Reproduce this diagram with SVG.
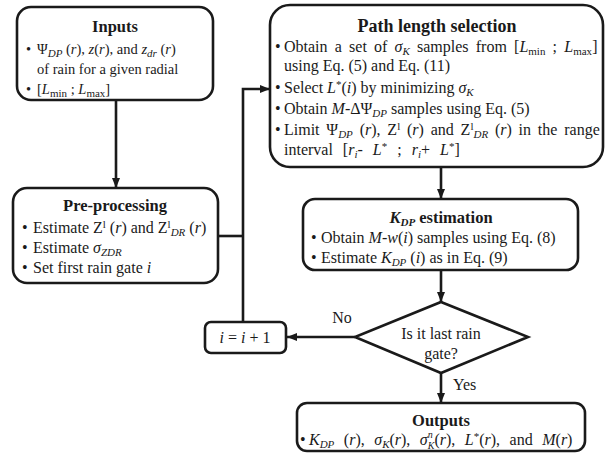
<svg xmlns="http://www.w3.org/2000/svg" width="607" height="453" viewBox="0 0 607 453">
<style>
text{font-family:"Liberation Serif","Times New Roman",serif;font-size:16px;fill:#1a1a1a}
.h{font-weight:bold;font-size:16.5px;text-anchor:middle}
.c{text-anchor:middle}
.i{font-style:italic}
.s{font-size:11px}
.sm{font-size:14.5px}
.box{fill:#fff;stroke:#1a1a1a;stroke-width:2.6}
.ln{fill:none;stroke:#1a1a1a;stroke-width:2.6}
</style>
<defs>
<marker id="ah" markerUnits="userSpaceOnUse" markerWidth="10" markerHeight="10" viewBox="0 0 10 10" refX="10" refY="5" orient="auto">
<path d="M0,1 L10,5 L0,9 Z" fill="#1a1a1a"/>
</marker>
</defs>
<g id="connectors">
<line class="ln" x1="116" y1="100" x2="116" y2="188" marker-end="url(#ah)"/>
<line class="ln" x1="218" y1="236" x2="243" y2="236"/>
<polyline class="ln" points="243,322 243,89 270,89" marker-end="url(#ah)"/>
<line class="ln" x1="441" y1="167" x2="441" y2="199" marker-end="url(#ah)"/>
<line class="ln" x1="441" y1="270" x2="441" y2="302" marker-end="url(#ah)"/>
<line class="ln" x1="355" y1="337" x2="287" y2="337" marker-end="url(#ah)"/>
<line class="ln" x1="441" y1="373" x2="441" y2="403" marker-end="url(#ah)"/>
<text x="342" y="323" class="c">No</text>
<text x="453" y="390">Yes</text>
</g>
<g id="inputs">
<rect class="box" x="17" y="7" width="196" height="93" rx="14"/>
<text x="115" y="32" class="h">Inputs</text>
<text x="26" y="54" class="sm">•</text>
<text x="37" y="54" class="sm">Ψ<tspan class="s i" dy="3">DP</tspan><tspan dy="-3"> (</tspan><tspan class="i">r</tspan>), <tspan class="i">z</tspan>(<tspan class="i">r</tspan>), and <tspan class="i">z</tspan><tspan class="s i" dy="3">dr</tspan><tspan dy="-3"> (</tspan><tspan class="i">r</tspan>)</text>
<text x="37" y="74" class="sm">of rain for a given radial</text>
<text x="26" y="94" class="sm">•</text>
<text x="37" y="94" class="sm">[<tspan class="i">L</tspan><tspan class="s" dy="3">min</tspan><tspan dy="-3"> ; </tspan><tspan class="i">L</tspan><tspan class="s" dy="3">max</tspan><tspan dy="-3">]</tspan></text>
</g>
<g id="preprocessing">
<rect class="box" x="13" y="188" width="205" height="95" rx="14"/>
<text x="115" y="211" class="h">Pre-processing</text>
<text x="22" y="233">•</text>
<text x="33" y="233">Estimate Z<tspan class="s" dy="-5">l</tspan><tspan dy="5"> (</tspan><tspan class="i">r</tspan>) and Z<tspan class="s" dy="-5">l</tspan><tspan class="s i" dy="8">DR</tspan><tspan dy="-3"> (</tspan><tspan class="i">r</tspan>)</text>
<text x="22" y="253">•</text>
<text x="33" y="253">Estimate <tspan class="i">σ</tspan><tspan class="s i" dy="3">ZDR</tspan></text>
<text x="22" y="273">•</text>
<text x="33" y="273">Set first rain gate <tspan class="i">i</tspan></text>
</g>
<g id="pathlength">
<rect class="box" x="270" y="5" width="333" height="162" rx="20"/>
<text x="437" y="32" class="h" style="font-size:18px">Path length selection</text>
<text x="275" y="52">•</text>
<text x="284" y="52" word-spacing="3.2">Obtain a set of <tspan class="i">σ</tspan><tspan class="s i" dy="3">K</tspan><tspan dy="-3"> samples from [</tspan><tspan class="i">L</tspan><tspan class="s" dy="3">min</tspan><tspan dy="-3"> ; </tspan><tspan class="i">L</tspan><tspan class="s" dy="3">max</tspan><tspan dy="-3">]</tspan></text>
<text x="284" y="71">using Eq. (5) and Eq. (11)</text>
<text x="275" y="93">•</text>
<text x="284" y="93">Select <tspan class="i">L</tspan><tspan class="s" dy="-5">*</tspan><tspan dy="5">(</tspan><tspan class="i">i</tspan>) by minimizing  <tspan class="i">σ</tspan><tspan class="s i" dy="3">K</tspan></text>
<text x="275" y="114">•</text>
<text x="284" y="114">Obtain <tspan class="i">M</tspan>-ΔΨ<tspan class="s i" dy="3">DP</tspan><tspan dy="-3"> samples using Eq. (5)</tspan></text>
<text x="275" y="135">•</text>
<text x="284" y="135" word-spacing="2.8">Limit Ψ<tspan class="s i" dy="3">DP</tspan><tspan dy="-3"> (</tspan><tspan class="i">r</tspan>), Z<tspan class="s" dy="-5">l</tspan><tspan dy="5"> (</tspan><tspan class="i">r</tspan>) and Z<tspan class="s" dy="-5">l</tspan><tspan class="s i" dy="8">DR</tspan><tspan dy="-3"> (</tspan><tspan class="i">r</tspan>) in the range</text>
<text x="284" y="155" word-spacing="6">interval [<tspan class="i">r</tspan><tspan class="s i" dy="3">i</tspan><tspan dy="-3">- </tspan><tspan class="i">L</tspan><tspan class="s" dy="-5">*</tspan><tspan dy="5"> ; </tspan><tspan class="i">r</tspan><tspan class="s i" dy="3">i</tspan><tspan dy="-3">+ </tspan><tspan class="i">L</tspan><tspan class="s" dy="-5">*</tspan><tspan dy="5">]</tspan></text>
</g>
<g id="kdp">
<rect class="box" x="303" y="199" width="275" height="71" rx="12"/>
<text x="441" y="223" class="h"><tspan class="i">K</tspan><tspan class="s i" dy="3">DP</tspan><tspan dy="-3"> estimation</tspan></text>
<text x="311" y="243">•</text>
<text x="321" y="243">Obtain <tspan class="i">M</tspan>-<tspan class="i">w</tspan>(<tspan class="i">i</tspan>) samples using Eq. (8)</text>
<text x="311" y="263">•</text>
<text x="321" y="263">Estimate <tspan class="i">K</tspan><tspan class="s i" dy="3">DP</tspan><tspan dy="-3"> (</tspan><tspan class="i">i</tspan>) as in Eq. (9)</text>
</g>
<g id="decision">
<polygon class="box" points="441,302 528,337 441,373 355,337"/>
<text x="441" y="339" class="c">Is it last rain</text>
<text x="441" y="359" class="c">gate?</text>
</g>
<g id="increment">
<rect class="box" x="205" y="322" width="81" height="31" rx="6"/>
<text x="245" y="343" class="c"><tspan class="i">i</tspan> = <tspan class="i">i</tspan> + 1</text>
</g>
<g id="outputs">
<rect class="box" x="297" y="403" width="288" height="48" rx="10"/>
<text x="441" y="426" class="h">Outputs</text>
<text x="300" y="445">•</text>
<text x="309" y="445" word-spacing="5.5"><tspan class="i">K</tspan><tspan class="s i" dy="3">DP</tspan><tspan dy="-3"> (</tspan><tspan class="i">r</tspan>), <tspan class="i">σ</tspan><tspan class="s i" dy="3">K</tspan><tspan dy="-3">(</tspan><tspan class="i">r</tspan>), <tspan class="i">σ</tspan><tspan class="i" style="font-size:10px" dy="-7">n</tspan><tspan class="i" style="font-size:10px" dx="-5" dy="11">K</tspan><tspan dy="-4">(</tspan><tspan class="i">r</tspan>), <tspan class="i">L</tspan><tspan class="s" dy="-5">*</tspan><tspan dy="5">(</tspan><tspan class="i">r</tspan>), and <tspan class="i">M</tspan>(<tspan class="i">r</tspan>)</text>
</g>
</svg>
